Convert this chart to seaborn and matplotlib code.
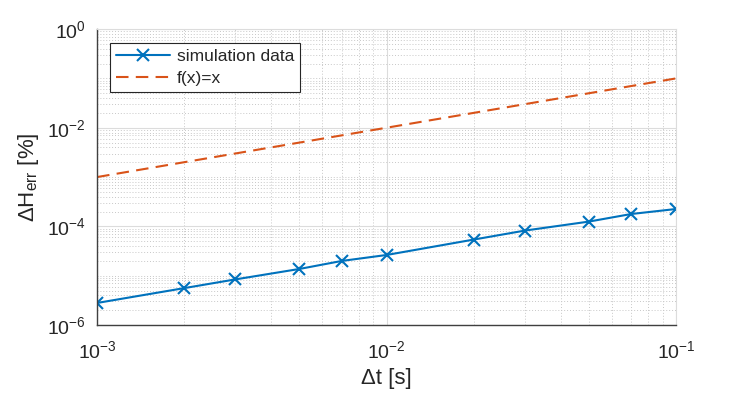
import numpy as np
import pandas as pd
import matplotlib
matplotlib.use('Agg')
import matplotlib.pyplot as plt
import matplotlib.ticker as mticker
import seaborn as sns

# data
dt = [0.001, 0.002, 0.003, 0.005, 0.007, 0.01, 0.02, 0.03, 0.05, 0.07, 0.1]
h_err = [2.8e-6, 5.6e-6, 8.4e-6, 1.37e-5, 1.99e-5, 2.63e-5, 5.4e-5, 8.2e-5, 1.25e-4, 1.78e-4, 2.25e-4]
ref_x = [0.001, 0.1]
ref_y = [0.001, 0.1]

sns.set_style('white')
plt.rcParams['font.family'] = ['Liberation Sans', 'DejaVu Sans']
plt.rcParams['mathtext.default'] = 'regular'

blue = '#0072BD'
orange = '#D95319'

fig = plt.figure(figsize=(7.47, 3.93), dpi=100)
ax = fig.add_axes([0.130, 0.173, 0.775, 0.753])

sim = pd.DataFrame({'dt': dt, 'err': h_err})
ref = pd.DataFrame({'dt': ref_x, 'err': ref_y})
sns.lineplot(data=sim, x='dt', y='err', ax=ax, color=blue, lw=1.5, marker='x',
             markersize=9, markeredgewidth=1.5, markeredgecolor=blue, label='simulation data')
sns.lineplot(data=ref, x='dt', y='err', ax=ax, color=orange, lw=1.5,
             dashes=False, linestyle=(0, (6, 3.5)), label='f(x)=x')

ax.set_xscale('log')
ax.set_yscale('log')
ax.set_xlim(1e-3, 1e-1)
ax.set_ylim(1e-6, 1e0)

ax.xaxis.set_major_locator(mticker.FixedLocator([1e-3, 1e-2, 1e-1]))
ax.yaxis.set_major_locator(mticker.FixedLocator([1e-6, 1e-4, 1e-2, 1e0]))
ax.xaxis.set_minor_locator(mticker.LogLocator(base=10, subs=np.arange(1, 10), numticks=50))
ax.yaxis.set_minor_locator(mticker.LogLocator(base=10, subs=np.arange(1, 10), numticks=50))
ax.xaxis.set_major_formatter(mticker.LogFormatterSciNotation())
ax.yaxis.set_major_formatter(mticker.LogFormatterSciNotation())
ax.xaxis.set_minor_formatter(mticker.NullFormatter())
ax.yaxis.set_minor_formatter(mticker.NullFormatter())

ax.grid(True, which='major', color='#dcdcdc', lw=0.8, ls='-')
ax.grid(True, which='minor', color='#c8c8c8', lw=0.7, ls=(0, (1, 2)))
ax.set_axisbelow(True)

ax.tick_params(which='both', direction='in', top=False, right=False, colors='#262626',
               labelsize=14, labelcolor='#262626')
ax.tick_params(which='major', length=5, width=0.8)
ax.tick_params(which='minor', length=2.5, width=0.6)
ax.tick_params(axis='x', pad=11)
ax.tick_params(axis='y', pad=8)

for s in ['left', 'bottom']:
    ax.spines[s].set_color('#404040')
    ax.spines[s].set_linewidth(1.0)
for s in ['top', 'right']:
    ax.spines[s].set_color('#dcdcdc')
    ax.spines[s].set_linewidth(0.8)

ax.set_xlabel('Δt [s]', fontsize=16, color='#262626', labelpad=4)
ax.set_ylabel('ΔH$_{err}$ [%]', fontsize=16, color='#262626', labelpad=4)

leg = ax.legend(loc='upper left', bbox_to_anchor=(0.022, 0.953), borderaxespad=0,
                fontsize=12.5, frameon=True, fancybox=False, edgecolor='#262626', framealpha=1,
                handlelength=3.1, handletextpad=0.4, borderpad=0.35, labelspacing=0.4)
leg.get_frame().set_linewidth(0.8)

fig.savefig('out.png', dpi=100)
